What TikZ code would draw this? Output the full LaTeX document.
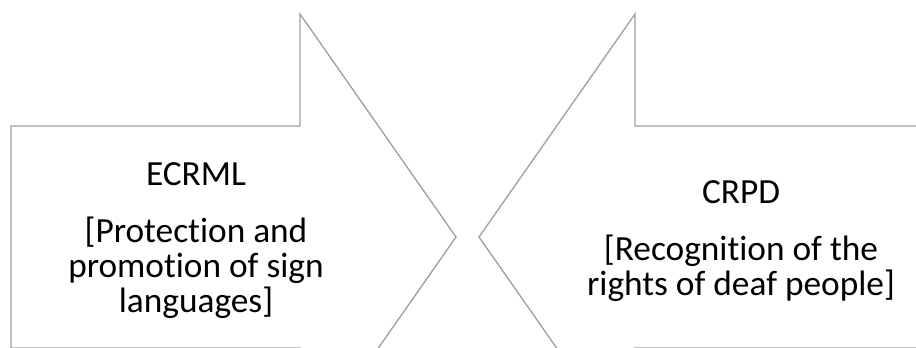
\documentclass[tikz,border=0pt]{standalone}
\usepackage{fontspec}
\setmainfont{Carlito}[Ligatures={NoCommon,TeX}]
\definecolor{edgegray}{RGB}{160,160,160}
\begin{document}
\begin{tikzpicture}[x=0.75pt,y=-0.75pt,
  arrowshape/.style={draw=edgegray,line width=1pt,line join=miter},
  lbl/.style={anchor=base,inner sep=0pt,font=\fontsize{26.5}{31}\selectfont,text=black}]
\useasboundingbox (0,0) rectangle (916,347);
\clip (0,0) rectangle (916,347);
\fill[white] (0,0) rectangle (916,347);
% left arrow pointing right
\draw[arrowshape] (11,126) -- (300,126) -- (300,14) -- (456,237) -- (300,460) -- (300,348) -- (11,348) -- cycle;
% right arrow pointing left
\draw[arrowshape] (479,237) -- (635,14) -- (635,126) -- (940,126) -- (940,348) -- (635,348) -- (635,460) -- cycle;
% left texts
\node[lbl] (ecrml) at (196,185) {ECRML};
\node[lbl] (l1) at (196,242) {[Protection and};
\node[lbl] (l2) at (196,277) {promotion of sign};
\node[lbl] (l3) at (196,312) {languages]};
% right texts
\node[lbl] (crpd) at (741,203) {CRPD};
\node[lbl] (r1) at (741,260) {[Recognition of the};
\node[lbl] (r2) at (741,295) {rights of deaf people]};
\end{tikzpicture}
\end{document}
